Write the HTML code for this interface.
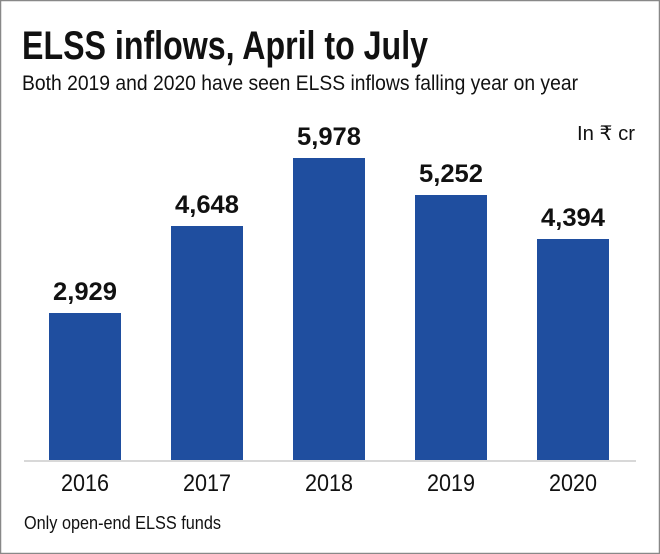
<!DOCTYPE html>
<html><head><meta charset="utf-8"><style>
html,body{margin:0;padding:0;background:#fff}
svg{display:block}
text{font-family:"Liberation Sans",sans-serif;fill:#111}
</style></head><body>
<svg width="660" height="554" viewBox="0 0 660 554" xmlns="http://www.w3.org/2000/svg">
<rect x="0.5" y="0.5" width="659" height="553" fill="#fff" stroke="#888" stroke-width="1.5"/>
<text x="22" y="59" font-size="40" font-weight="bold" textLength="406" lengthAdjust="spacingAndGlyphs">ELSS inflows, April to July</text>
<text x="22" y="90" font-size="21" textLength="556" lengthAdjust="spacingAndGlyphs">Both 2019 and 2020 have seen ELSS inflows falling year on year</text>
<text x="635" y="140" font-size="20" text-anchor="end" textLength="58" lengthAdjust="spacingAndGlyphs">In ₹ cr</text>
<g fill="#1f4e9f">
<rect x="49" y="313" width="72" height="147"/>
<rect x="171" y="226" width="72" height="234"/>
<rect x="293" y="158" width="72" height="302"/>
<rect x="415" y="195" width="72" height="265"/>
<rect x="537" y="239" width="72" height="221"/>
</g>
<line x1="24" y1="461" x2="636" y2="461" stroke="#ccc" stroke-width="1.5"/>
<g font-size="25" font-weight="bold" text-anchor="middle">
<text x="85" y="300" textLength="64" lengthAdjust="spacingAndGlyphs">2,929</text>
<text x="207" y="213" textLength="64" lengthAdjust="spacingAndGlyphs">4,648</text>
<text x="329" y="145" textLength="64" lengthAdjust="spacingAndGlyphs">5,978</text>
<text x="451" y="182" textLength="64" lengthAdjust="spacingAndGlyphs">5,252</text>
<text x="573" y="226" textLength="64" lengthAdjust="spacingAndGlyphs">4,394</text>
</g>
<g font-size="24" text-anchor="middle">
<text x="85" y="491" textLength="48" lengthAdjust="spacingAndGlyphs">2016</text>
<text x="207" y="491" textLength="48" lengthAdjust="spacingAndGlyphs">2017</text>
<text x="329" y="491" textLength="48" lengthAdjust="spacingAndGlyphs">2018</text>
<text x="451" y="491" textLength="48" lengthAdjust="spacingAndGlyphs">2019</text>
<text x="573" y="491" textLength="48" lengthAdjust="spacingAndGlyphs">2020</text>
</g>
<text x="24" y="529" font-size="18" textLength="197" lengthAdjust="spacingAndGlyphs">Only open-end ELSS funds</text>
</svg>
</body></html>
